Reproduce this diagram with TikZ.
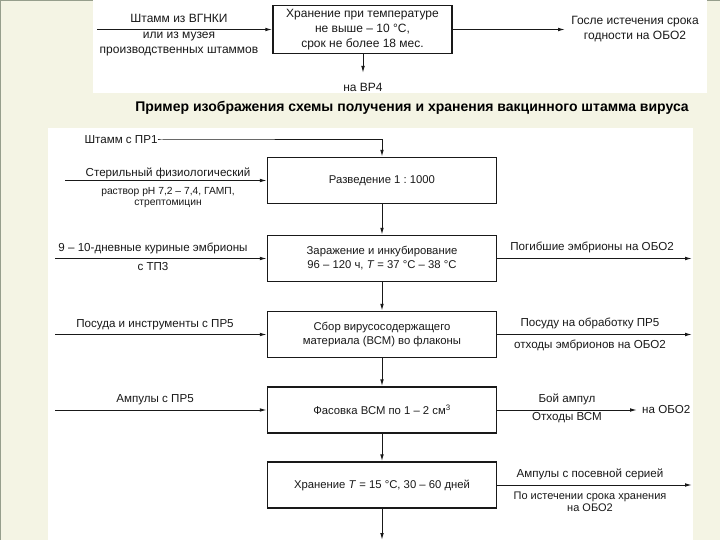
\documentclass[tikz,border=0pt]{standalone}
\usepackage{fontspec}
\setmainfont{Liberation Sans}
\frenchspacing
\usetikzlibrary{arrows.meta}
\definecolor{slidebg}{RGB}{244,244,228}
\definecolor{slideedge}{RGB}{150,158,140}
\definecolor{inkgray}{RGB}{25,25,25}
\tikzset{
  stagebox/.style={draw=inkgray, line width=1.4pt, minimum width=229pt, minimum height=46pt, inner sep=0pt, align=center, text=inkgray, font=\fontsize{11.3}{14}\selectfont},
  flowtxt/.style={inner sep=0pt, align=center, text=inkgray, font=\fontsize{11.6}{14}\selectfont},
  smalltxt/.style={inner sep=0pt, align=center, text=inkgray, font=\fontsize{10.3}{11}\selectfont},
  toptxt/.style={inner sep=0pt, align=center, text=inkgray, font=\fontsize{12}{15}\selectfont},
  flow/.style={draw=inkgray, line width=1pt, -{Latex[length=7pt,width=3.6pt]}},
}

\begin{document}
\begin{tikzpicture}[x=1pt,y=-1pt]
			%%%%% START %%%%%
			\useasboundingbox (0,0) rectangle (720,540);
			\fill[slidebg] (0,0) rectangle (720,540);
			\draw[slideedge, line width=2pt] (0,540) -- (0,0) -- (720,0);
			
			\fill[white] (93,0) rectangle (707,93);
			\fill[white] (48,128) rectangle (693,540);
			
			% storage of the strain
			\node[stagebox, toptxt, minimum width=179pt, minimum height=48pt] (keep) at (362.5,29.5) {Хранение при температуре\\не выше – 10 °C,\\срок не более 18 мес.};
			\coordinate (vgnki) at (97,29.5);
			\draw[flow] (vgnki) -- (keep.west);
			\node[toptxt] (src1) at (179,18) {Штамм из ВГНКИ};
			\node[toptxt] (src2) at (179,44) {или из музея\\производственных штаммов};
			\coordinate (expiry) at (565,29.5);
			\draw[flow] (keep.east) -- (expiry);
			\node[toptxt] (oldout) at (635,29) {Госле истечения срока\\годности на ОБО2};
			\coordinate (vr4) at (363,73);
			\draw[flow] (keep.south -| vr4) -- (vr4);
			\node[toptxt] (vr4txt) at (363,87) {на ВР4};
			
			\node[inner sep=0pt, text=black, font=\fontsize{14}{16}\selectfont\bfseries] (title) at (412,108) {Пример изображения схемы получения и хранения вакцинного штамма вируса};
			
			% main chain
			\node[stagebox] (b1) at (382,180.5) {Разведение 1 : 1000};
			\node[stagebox] (b2) at (382,258.5) {Заражение и инкубирование\\96 – 120 ч, \textit{T} = 37 °C – 38 °C};
			\node[stagebox] (b3) at (382,334.5) {Сбор вирусосодержащего\\материала (ВСМ) во флаконы};
			\node[stagebox] (b4) at (382,410) {Фасовка ВСМ по 1 – 2 см\textsuperscript{3}};
			\node[stagebox] (b5) at (382,485) {Хранение \textit{T} = 15 °C, 30 – 60 дней};
			
			\draw[flow] (b1) -- (b2);
			\draw[flow] (b2) -- (b3);
			\draw[flow] (b3) -- (b4);
			\draw[flow] (b4) -- (b5);
			\coordinate (b5out) at (382,540);
			\draw[flow] (b5) -- (b5out);
			
			\node[flowtxt] (pr1) at (121,140) {Штамм с ПР1};
			\draw[flow] (pr1.east) -- ++(3,0) -| (b1.north);
			
			% inputs
			\coordinate (s1) at (65,180.5);
			\draw[flow] (s1) -- (b1.west);
			\node[flowtxt] (s1a) at (168,173) {Стерильный физиологический};
			\node[smalltxt] (s1b) at (168,197) {раствор рН 7,2 – 7,4, ГАМП,\\стрептомицин};
			
			\coordinate (s2) at (55,258.5);
			\draw[flow] (s2) -- (b2.west);
			\node[flowtxt] (s2a) at (153,248) {9 – 10-дневные куриные эмбрионы};
			\node[flowtxt] (s2b) at (153,267) {с ТП3};
			
			\coordinate (s3) at (55,334.5);
			\draw[flow] (s3) -- (b3.west);
			\node[flowtxt] (s3a) at (155,325) {Посуда и инструменты с ПР5};
			
			\coordinate (s4) at (55,410);
			\draw[flow] (s4) -- (b4.west);
			\node[flowtxt] (s4a) at (155,400) {Ампулы с ПР5};
			
			% outputs
			\coordinate (o2) at (692,258.5);
			\draw[flow] (b2.east) -- (o2);
			\node[flowtxt] (o2a) at (592,247) {Погибшие эмбрионы на ОБО2};
			
			\coordinate (o3) at (692,334.5);
			\draw[flow] (b3.east) -- (o3);
			\node[flowtxt] (o3a) at (590,323) {Посуду на обработку ПР5};
			\node[flowtxt] (o3b) at (590,345) {отходы эмбрионов на ОБО2};
			
			\node[flowtxt, anchor=west] (o4) at (642,410) {на ОБО2};
			\draw[flow, shorten >=5pt] (b4.east) -- (o4.west);
			\node[flowtxt] (o4a) at (567,399) {Бой ампул};
			\node[flowtxt] (o4b) at (567,418) {Отходы ВСМ};
			
			\coordinate (o5) at (692,485);
			\draw[flow] (b5.east) -- (o5);
			\node[flowtxt] (o5a) at (590,474) {Ампулы с посевной серией};
			\node[smalltxt, font=\fontsize{11}{12}\selectfont] (o5b) at (590,502) {По истечении срока хранения\\на ОБО2};
			%%%%% END %%%%%
\end{tikzpicture}
\end{document}
